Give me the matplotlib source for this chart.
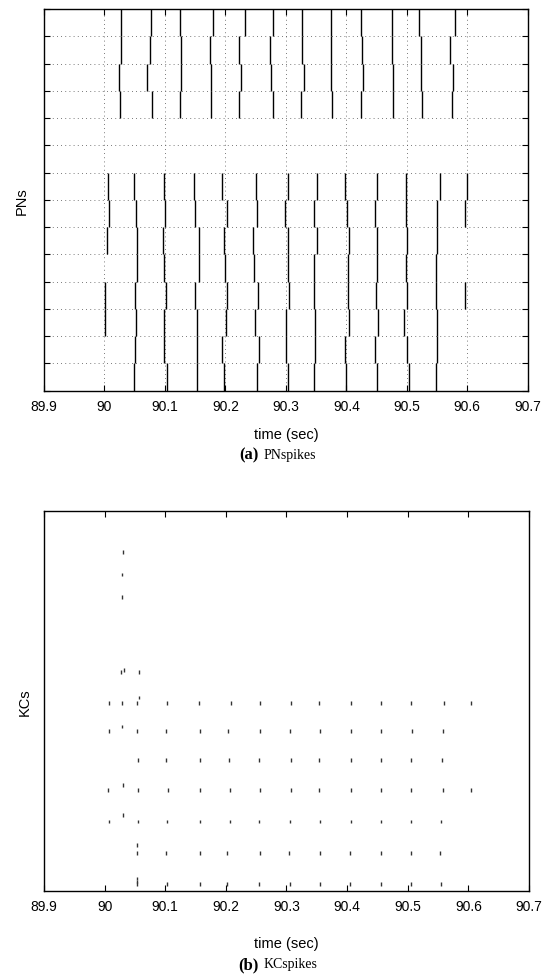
import matplotlib
matplotlib.use('Agg')
import matplotlib.pyplot as plt

plt.rcParams['font.family'] = ['Liberation Sans', 'DejaVu Sans']

# x axis ticks (same for both panels)
xticks = [89.9, 90.0, 90.1, 90.2, 90.3, 90.4, 90.5, 90.6, 90.7]
xticklabels = ['89.9', '90', '90.1', '90.2', '90.3', '90.4', '90.5', '90.6', '90.7']

# PN spike times, one list per PN (index 0 = bottom row)
pn_spike_times = [
    [90.049, 90.104, 90.153, 90.198, 90.252, 90.303, 90.347, 90.400, 90.451, 90.503, 90.548],
    [90.050, 90.098, 90.153, 90.195, 90.255, 90.300, 90.348, 90.398, 90.448, 90.500, 90.550],
    [90.001, 90.052, 90.099, 90.153, 90.201, 90.249, 90.301, 90.349, 90.404, 90.452, 90.496, 90.550],
    [90.001, 90.051, 90.102, 90.150, 90.202, 90.254, 90.305, 90.347, 90.403, 90.449, 90.500, 90.549, 90.596],
    [90.054, 90.099, 90.157, 90.200, 90.247, 90.303, 90.347, 90.402, 90.450, 90.499, 90.549],
    [90.004, 90.054, 90.097, 90.156, 90.198, 90.246, 90.303, 90.351, 90.404, 90.450, 90.500, 90.550],
    [90.007, 90.052, 90.100, 90.149, 90.203, 90.252, 90.298, 90.346, 90.401, 90.448, 90.499, 90.550, 90.597],
    [90.006, 90.049, 90.099, 90.148, 90.195, 90.251, 90.304, 90.351, 90.398, 90.450, 90.498, 90.555, 90.599],
    [],
    [],
    [90.026, 90.078, 90.125, 90.176, 90.222, 90.278, 90.325, 90.376, 90.424, 90.477, 90.525, 90.574],
    [90.024, 90.071, 90.127, 90.176, 90.225, 90.276, 90.330, 90.374, 90.428, 90.478, 90.523, 90.576],
    [90.028, 90.075, 90.127, 90.175, 90.222, 90.273, 90.327, 90.374, 90.426, 90.476, 90.523, 90.571],
    [90.027, 90.077, 90.125, 90.179, 90.232, 90.278, 90.326, 90.375, 90.424, 90.475, 90.521, 90.579],
]

# KC index and the spike times of that KC
kc_ids = [7, 10, 14, 48, 58, 89, 98, 130, 137, 170, 208, 214, 245, 252, 286, 288, 384, 414, 444]
kc_spike_times = [
    [90.054, 90.103, 90.157, 90.202, 90.255, 90.306, 90.355, 90.405, 90.456, 90.505, 90.555],
    [90.054],
    [90.054],
    [90.054, 90.102, 90.157, 90.202, 90.256, 90.304, 90.355, 90.405, 90.456, 90.505, 90.554],
    [90.054],
    [90.007, 90.055, 90.103, 90.157, 90.207, 90.255, 90.306, 90.355, 90.407, 90.456, 90.505, 90.555],
    [90.030],
    [90.005, 90.055, 90.104, 90.157, 90.207, 90.257, 90.307, 90.354, 90.407, 90.456, 90.505, 90.558, 90.604],
    [90.030],
    [90.055, 90.102, 90.158, 90.205, 90.255, 90.307, 90.354, 90.406, 90.456, 90.505, 90.557],
    [90.007, 90.054, 90.102, 90.158, 90.204, 90.256, 90.306, 90.355, 90.407, 90.456, 90.507, 90.558],
    [90.029],
    [90.008, 90.029, 90.054, 90.103, 90.155, 90.208, 90.257, 90.307, 90.354, 90.406, 90.456, 90.505, 90.560, 90.604],
    [90.057],
    [90.027, 90.056],
    [90.032],
    [90.029],
    [90.029],
    [90.030],
]

W, H = 549, 978
fig = plt.figure(figsize=(W / 100, H / 100), dpi=100)


def fx(px):
    return px / W


def fy(py):
    return 1 - py / H


def style_axes(ax):
    ax.set_xlim(89.9, 90.7)
    ax.set_xticks(xticks)
    ax.set_xticklabels(xticklabels)
    ax.tick_params(direction='in', top=True, right=True, length=4, width=0.8,
                   labelsize=10, pad=6)
    for s in ax.spines.values():
        s.set_linewidth(1.0)


# ---- (a) PN spikes
ax1 = fig.add_axes([fx(44), fy(391.7), fx(527.7 - 44), (391.7 - 10) / H])
for i, times in enumerate(pn_spike_times):
    if times:
        ax1.vlines(times, i, i + 1, color='k', lw=1.0)
style_axes(ax1)
ax1.set_ylim(0, 14)
ax1.set_yticks(range(0, 15))
ax1.set_yticklabels([])
ax1.grid(True, color='0.3', lw=0.6, linestyle=(0, (1, 4)))
ax1.set_axisbelow(True)
ax1.set_ylabel('PNs', fontsize=10.5, labelpad=5)

# ---- (b) KC spikes
ax2 = fig.add_axes([fx(44), fy(892), fx(529 - 44), (892 - 512) / H])
for kc, times in zip(kc_ids, kc_spike_times):
    ax2.vlines(times, kc, kc + 5, color='0.2', lw=1.0)
style_axes(ax2)
ax2.set_ylim(0, 500)
ax2.set_yticks([])
ax2.set_ylabel('KCs', fontsize=10.5, labelpad=9)

# x labels and captions
fig.text(fx(286), fy(435), 'time (sec)', ha='center', va='center', fontsize=10.5)
fig.text(fx(259), fy(455), '(a)', ha='right', va='center', fontsize=12,
         fontweight='bold', family=['Liberation Serif', 'DejaVu Serif'])
fig.text(fx(264), fy(455), 'PNspikes', ha='left', va='center', fontsize=10,
         family=['Liberation Serif', 'DejaVu Serif'])

fig.text(fx(286), fy(944), 'time (sec)', ha='center', va='center', fontsize=10.5)
fig.text(fx(259), fy(965), '(b)', ha='right', va='center', fontsize=12,
         fontweight='bold', family=['Liberation Serif', 'DejaVu Serif'])
fig.text(fx(264), fy(965), 'KCspikes', ha='left', va='center', fontsize=10,
         family=['Liberation Serif', 'DejaVu Serif'])

fig.savefig('out.png', dpi=100)
